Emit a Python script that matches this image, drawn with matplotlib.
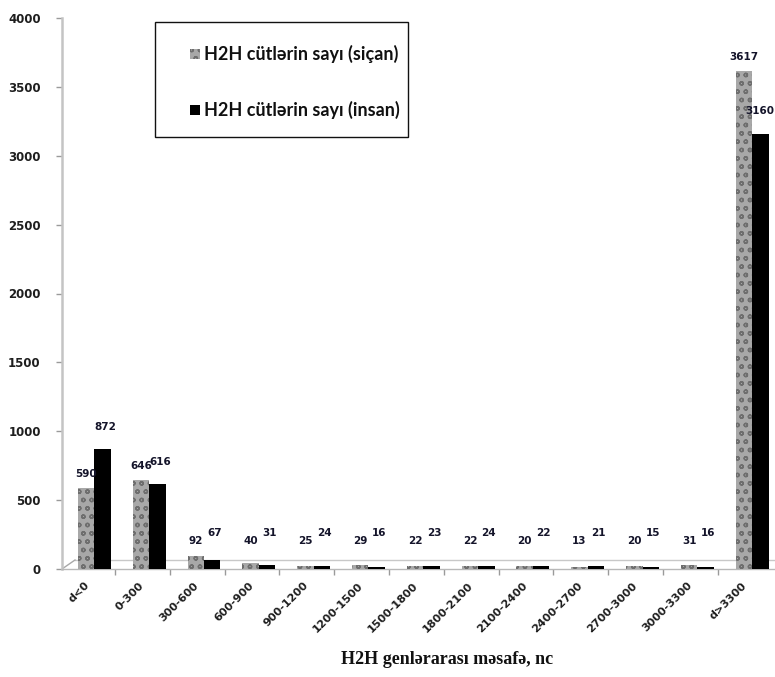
import matplotlib
matplotlib.use("Agg")
import matplotlib.pyplot as plt
import matplotlib.transforms as mtransforms
from matplotlib.patches import Rectangle
from matplotlib.lines import Line2D
import numpy as np

categories = ["d<0", "0-300", "300-600", "600-900", "900-1200", "1200-1500",
              "1500-1800", "1800-2100", "2100-2400", "2400-2700", "2700-3000",
              "3000-3300", "d>3300"]
mouse_counts = [590, 646, 92, 40, 25, 29, 22, 22, 20, 13, 20, 31, 3617]
human_counts = [872, 616, 67, 31, 24, 16, 23, 24, 22, 21, 15, 16, 3160]
mouse_label = "H2H cütlərin sayı (siçan)"
human_label = "H2H cütlərin sayı (insan)"
x_title = "H2H genlərarası məsafə, nc"
y_ticks = [0, 500, 1000, 1500, 2000, 2500, 3000, 3500, 4000]

W, H = 775, 677
fig = plt.figure(figsize=(W / 100, H / 100), dpi=100)
ax = fig.add_axes([62 / W, (H - 569) / H, (W - 62) / W, (569 - 18) / H])

x = np.arange(len(categories))
bw = 0.3
mouse_style = dict(facecolor="#a8a8a8", edgecolor="#6e6e6e", hatch="oo", linewidth=0)
human_style = dict(facecolor="#000000", edgecolor="#000000", linewidth=0)

ax.bar(x - 0.145, mouse_counts, bw, **mouse_style, zorder=3)
ax.bar(x + 0.155, human_counts, bw, **human_style, zorder=3)

ax.set_xlim(-0.584, 12.42)
ax.set_ylim(0, 4000)

# value labels above each bar
for xi, v in zip(x, mouse_counts):
    base = max(v, 100)
    ax.annotate(str(v), (xi - 0.145, base), xytext=(0, 10), textcoords="offset points",
                ha="center", va="center", fontsize=7.5, fontweight="bold",
                color="#14142a", zorder=5)
for xi, v in zip(x, human_counts):
    base = max(v, 100)
    lx = min(xi + 0.2, 12.14)  # keep the last label inside the figure
    ax.annotate(str(v), (lx, base), xytext=(0, 16), textcoords="offset points",
                ha="center", va="center", fontsize=7.5, fontweight="bold",
                color="#14142a", zorder=5, annotation_clip=False)

# axes styling
for s in ["top", "right"]:
    ax.spines[s].set_visible(False)
ax.spines["left"].set_color("#c4c4c4")
ax.spines["left"].set_linewidth(1.8)
ax.spines["bottom"].set_color("#b8b8b8")
ax.spines["bottom"].set_linewidth(1.0)

ax.set_yticks(y_ticks)
ax.set_yticklabels([str(t) for t in y_ticks])
ax.tick_params(axis="y", length=4.3, width=1, color="#9a9a9a", pad=11,
               labelsize=8.5, labelcolor="#1e1e1e")
for lab in ax.get_yticklabels():
    lab.set_fontweight("bold")

ax.set_xticks(x)
ax.set_xticklabels(categories, rotation=45, ha="right", rotation_mode="anchor",
                   fontsize=8, fontweight="bold", color="#1e1e1e")
ax.tick_params(axis="x", length=0, pad=6)
shift = mtransforms.ScaledTranslation(-10 / 100, -3 / 100, fig.dpi_scale_trans)
for lab in ax.get_xticklabels():
    lab.set_transform(lab.get_transform() + shift)

# boundary ticks on the category axis
ax.set_xticks(x[:-1] + 0.5 - 0.12, minor=True)
ax.tick_params(axis="x", which="minor", length=4.5, width=1, color="#9a9a9a")

# floor: back edge and left slanted edge
lift = mtransforms.ScaledTranslation(0, 9 / 100, fig.dpi_scale_trans)
ax.add_line(Line2D([0.018, 1.0], [0, 0], transform=ax.transAxes + lift,
                   color="#c8c8c8", linewidth=1.0, zorder=1, clip_on=False))
ax.add_line(Line2D([62 / W, 75 / W], [(H - 569) / H, (H - 560) / H], transform=fig.transFigure,
                   color="#a8a8a8", linewidth=1.0, zorder=1))

# legend box
fig.patches.append(Rectangle((155 / W, (H - 137) / H), (408 - 155) / W, (137 - 22) / H,
                             transform=fig.transFigure, facecolor="white",
                             edgecolor="#111111", linewidth=1.0))
fig.patches.append(Rectangle((190 / W, (H - 59) / H), 10 / W, 10 / H,
                             transform=fig.transFigure, **mouse_style))
fig.patches.append(Rectangle((190 / W, (H - 115) / H), 10 / W, 10 / H,
                             transform=fig.transFigure, **human_style))
fig.text(204 / W, (H - 54) / H, mouse_label, fontsize=13, fontweight="bold",
         family="Lato", va="center", ha="left", color="#101010")
fig.text(204 / W, (H - 110) / H, human_label, fontsize=13, fontweight="bold",
         family="Lato", va="center", ha="left", color="#101010")

fig.text(447 / W, (H - 660) / H, x_title, fontsize=13, fontweight="bold",
         family="Liberation Serif", ha="center", va="center", color="#111111")

fig.savefig("out.png", dpi=100)
